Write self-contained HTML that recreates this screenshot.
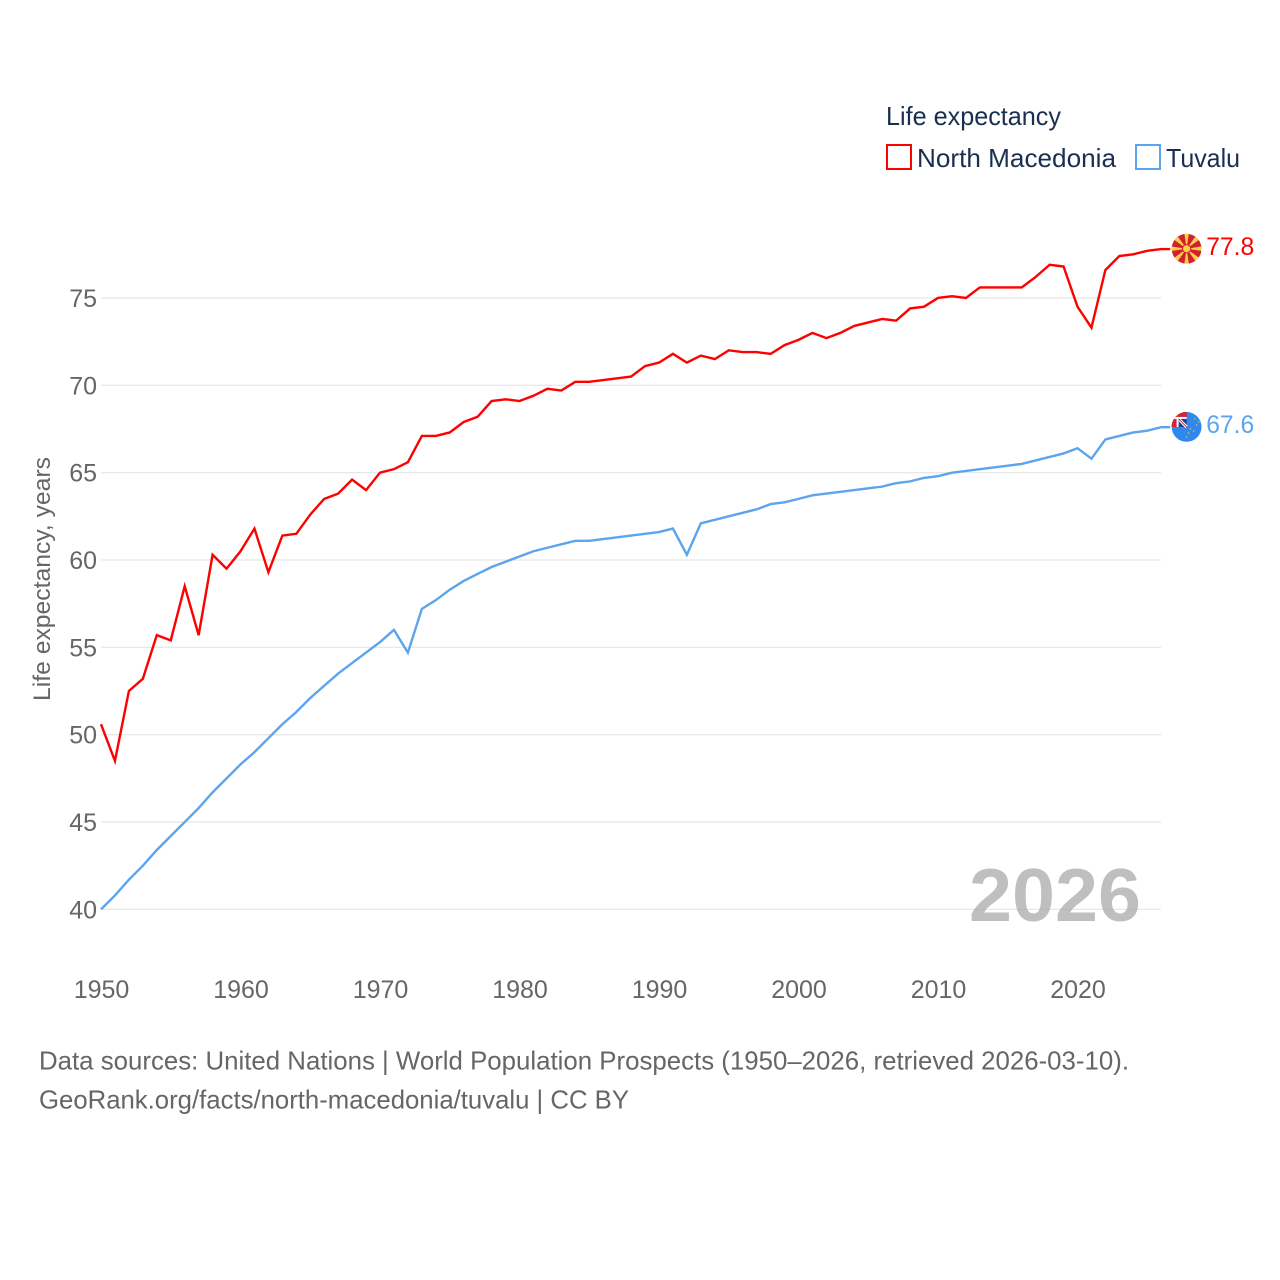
<!DOCTYPE html>
<html>
<head>
<meta charset="utf-8">
<style>
html,body{margin:0;padding:0;background:#fff}
svg{display:block}
text{font-family:"Liberation Sans",sans-serif}
</style>
</head>
<body>
<svg id="chart" xmlns="http://www.w3.org/2000/svg" width="1280" height="1280" viewBox="0 0 1280 1280">
  <rect width="1280" height="1280" fill="#fff"/>
  <g id="grid"></g>
  <text x="969" y="921" font-size="75" font-weight="700" fill="#a6a6a6" fill-opacity="0.72" textLength="172" lengthAdjust="spacingAndGlyphs">2026</text>
  <g id="yticks"></g>
  <g id="xticks"></g>
  <text transform="translate(50,701) rotate(-90)" font-size="24" fill="#666" textLength="244" lengthAdjust="spacingAndGlyphs">Life expectancy, years</text>
  <g id="series"></g>

  <g>
    <text x="886" y="125" font-size="26" fill="#1a2f4f" textLength="175" lengthAdjust="spacingAndGlyphs">Life expectancy</text>
    <rect x="887" y="145" width="24" height="24" fill="none" stroke="#ff0000" stroke-width="2"/>
    <text x="917" y="167" font-size="26" fill="#1a2f4f" textLength="199" lengthAdjust="spacingAndGlyphs">North Macedonia</text>
    <rect x="1136" y="145" width="24" height="24" fill="none" stroke="#5ba4ee" stroke-width="2"/>
    <text x="1166" y="167" font-size="26" fill="#1a2f4f" textLength="74" lengthAdjust="spacingAndGlyphs">Tuvalu</text>
  </g>

  <defs>
    <clipPath id="clip-mk"><circle cx="0" cy="0" r="15"/></clipPath>
    <clipPath id="clip-tv"><circle cx="0" cy="0" r="15"/></clipPath>
  </defs>

  <g id="flag-mk" clip-path="url(#clip-mk)">
    <circle cx="0" cy="0" r="15" fill="#d2202c"/>
    <g fill="#f9cf4a">
      <polygon points="-2.4,-16 2.4,-16 0,0"/>
      <polygon points="-2.4,16 2.4,16 0,0"/>
      <polygon points="-16,-2.4 -16,2.4 0,0"/>
      <polygon points="16,-2.4 16,2.4 0,0"/>
      <polygon points="-13,-9.4 -9.4,-13 0,0"/>
      <polygon points="13,-9.4 9.4,-13 0,0"/>
      <polygon points="-13,9.4 -9.4,13 0,0"/>
      <polygon points="13,9.4 9.4,13 0,0"/>
    </g>
    <circle cx="0" cy="0" r="4.6" fill="#d2202c"/>
    <circle cx="0" cy="0" r="3.6" fill="#f9cf4a"/>
  </g>

  <g id="flag-tv" clip-path="url(#clip-tv)">
    <circle cx="0" cy="0" r="15" fill="#2f88ec"/>
    <rect x="-15" y="-15" width="15" height="15" fill="#1f3f8f"/>
    <rect x="-15" y="-15" width="15" height="5" fill="#d8232f"/>
    <rect x="-15" y="-15" width="5" height="15" fill="#d8232f"/>
    <rect x="-15" y="-10" width="15" height="2" fill="#fff"/>
    <rect x="-10" y="-10" width="2" height="10" fill="#fff"/>
    <line x1="-7" y1="-7" x2="0" y2="0" stroke="#fff" stroke-width="3"/>
    <line x1="-7" y1="-7" x2="0" y2="0" stroke="#d8232f" stroke-width="1"/>
    <g fill="#e8c860" fill-opacity="0.8">
      <circle cx="8" cy="-8" r="0.8"/>
      <circle cx="12" cy="-5" r="0.8"/>
      <circle cx="10" cy="-2" r="0.8"/>
      <circle cx="4" cy="2" r="0.8"/>
      <circle cx="7" cy="4" r="0.8"/>
      <circle cx="2" cy="6" r="0.8"/>
      <circle cx="0" cy="10" r="0.8"/>
    </g>
  </g>

  <g id="endlabels"></g>

  <g>
    <text x="39" y="1069.5" font-size="26" fill="#666" textLength="1090" lengthAdjust="spacingAndGlyphs">Data sources: United Nations | World Population Prospects (1950–2026, retrieved 2026-03-10).</text>
    <text x="39" y="1108.5" font-size="26" fill="#666" textLength="590" lengthAdjust="spacingAndGlyphs">GeoRank.org/facts/north-macedonia/tuvalu | CC BY</text>
  </g>
</svg>

<script>
const firstYear = 1950;
const northMacedonia = [50.6,48.5,52.5,53.2,55.7,55.4,58.5,55.7,60.3,59.5,60.5,61.8,59.3,61.4,61.5,62.6,63.5,63.8,64.6,64.0,65.0,65.2,65.6,67.1,67.1,67.3,67.9,68.2,69.1,69.2,69.1,69.4,69.8,69.7,70.2,70.2,70.3,70.4,70.5,71.1,71.3,71.8,71.3,71.7,71.5,72.0,71.9,71.9,71.8,72.3,72.6,73.0,72.7,73.0,73.4,73.6,73.8,73.7,74.4,74.5,75.0,75.1,75.0,75.6,75.6,75.6,75.6,76.2,76.9,76.8,74.5,73.3,76.6,77.4,77.5,77.7,77.8];
const tuvalu = [40.0,40.8,41.7,42.5,43.4,44.2,45.0,45.8,46.7,47.5,48.3,49.0,49.8,50.6,51.3,52.1,52.8,53.5,54.1,54.7,55.3,56.0,54.7,57.2,57.7,58.3,58.8,59.2,59.6,59.9,60.2,60.5,60.7,60.9,61.1,61.1,61.2,61.3,61.4,61.5,61.6,61.8,60.3,62.1,62.3,62.5,62.7,62.9,63.2,63.3,63.5,63.7,63.8,63.9,64.0,64.1,64.2,64.4,64.5,64.7,64.8,65.0,65.1,65.2,65.3,65.4,65.5,65.7,65.9,66.1,66.4,65.8,66.9,67.1,67.3,67.4,67.6];
const yTickValues = [40,45,50,55,60,65,70,75];
const xTickValues = [1950,1960,1970,1980,1990,2000,2010,2020];

const NS = 'http://www.w3.org/2000/svg';
const xScale = function (year) { return 101 + (year - 1950) * 13.95; };
const yScale = function (v) { return 909.4 - (v - 40) * 17.47; };

function make(tag, attrs, parent, content) {
  const el = document.createElementNS(NS, tag);
  for (const k in attrs) el.setAttribute(k, attrs[k]);
  if (content !== undefined) el.textContent = content;
  parent.appendChild(el);
  return el;
}

const gridG = document.getElementById('grid');
const yTickG = document.getElementById('yticks');
const xTickG = document.getElementById('xticks');
const seriesG = document.getElementById('series');
const labelG = document.getElementById('endlabels');

yTickValues.forEach(function (v) {
  const line = make('line', {x1: 101, x2: 1161, y1: yScale(v), y2: yScale(v), stroke: '#e8e8e8', 'stroke-width': 1.3}, gridG);
  
  
  const label = make('text', {x: 97, y: yScale(v) + 9, 'text-anchor': 'end', 'font-size': 25, fill: '#666'}, yTickG, String(v));
  
  
});

xTickValues.forEach(function (year) {
  const label = make('text', {x: xScale(year) + 0.5, y: 998, 'text-anchor': 'middle', 'font-size': 25, fill: '#666'}, xTickG, String(year));
  
  
});

function drawSeries(values, color, flagId) {
  const pts = values.map(function (v, i) {
    return xScale(firstYear + i).toFixed(2) + ',' + yScale(v).toFixed(2);
  });
  const lastV = values[values.length - 1];
  const lastY = yScale(lastV);
  const lastX = xScale(firstYear + values.length - 1);
  pts.push((lastX + 9).toFixed(2) + ',' + lastY.toFixed(2));
  const line = make('polyline', {points: pts.join(' '), fill: 'none', stroke: color, 'stroke-width': 2.4, 'stroke-linejoin': 'miter'}, seriesG);
  
  
  document.getElementById(flagId).setAttribute('transform', 'translate(' + (lastX + 25.4) + ',' + (lastY - 0.3) + ')');
  const label = make('text', {x: lastX + 45, y: lastY + 6, 'font-size': 25, fill: color, textLength: 48, lengthAdjust: 'spacingAndGlyphs'}, labelG, lastV.toFixed(1));
  
  
}

drawSeries(tuvalu, '#5ba4ee', 'flag-tv');
drawSeries(northMacedonia, '#ff0000', 'flag-mk');
</script>
</body>
</html>
